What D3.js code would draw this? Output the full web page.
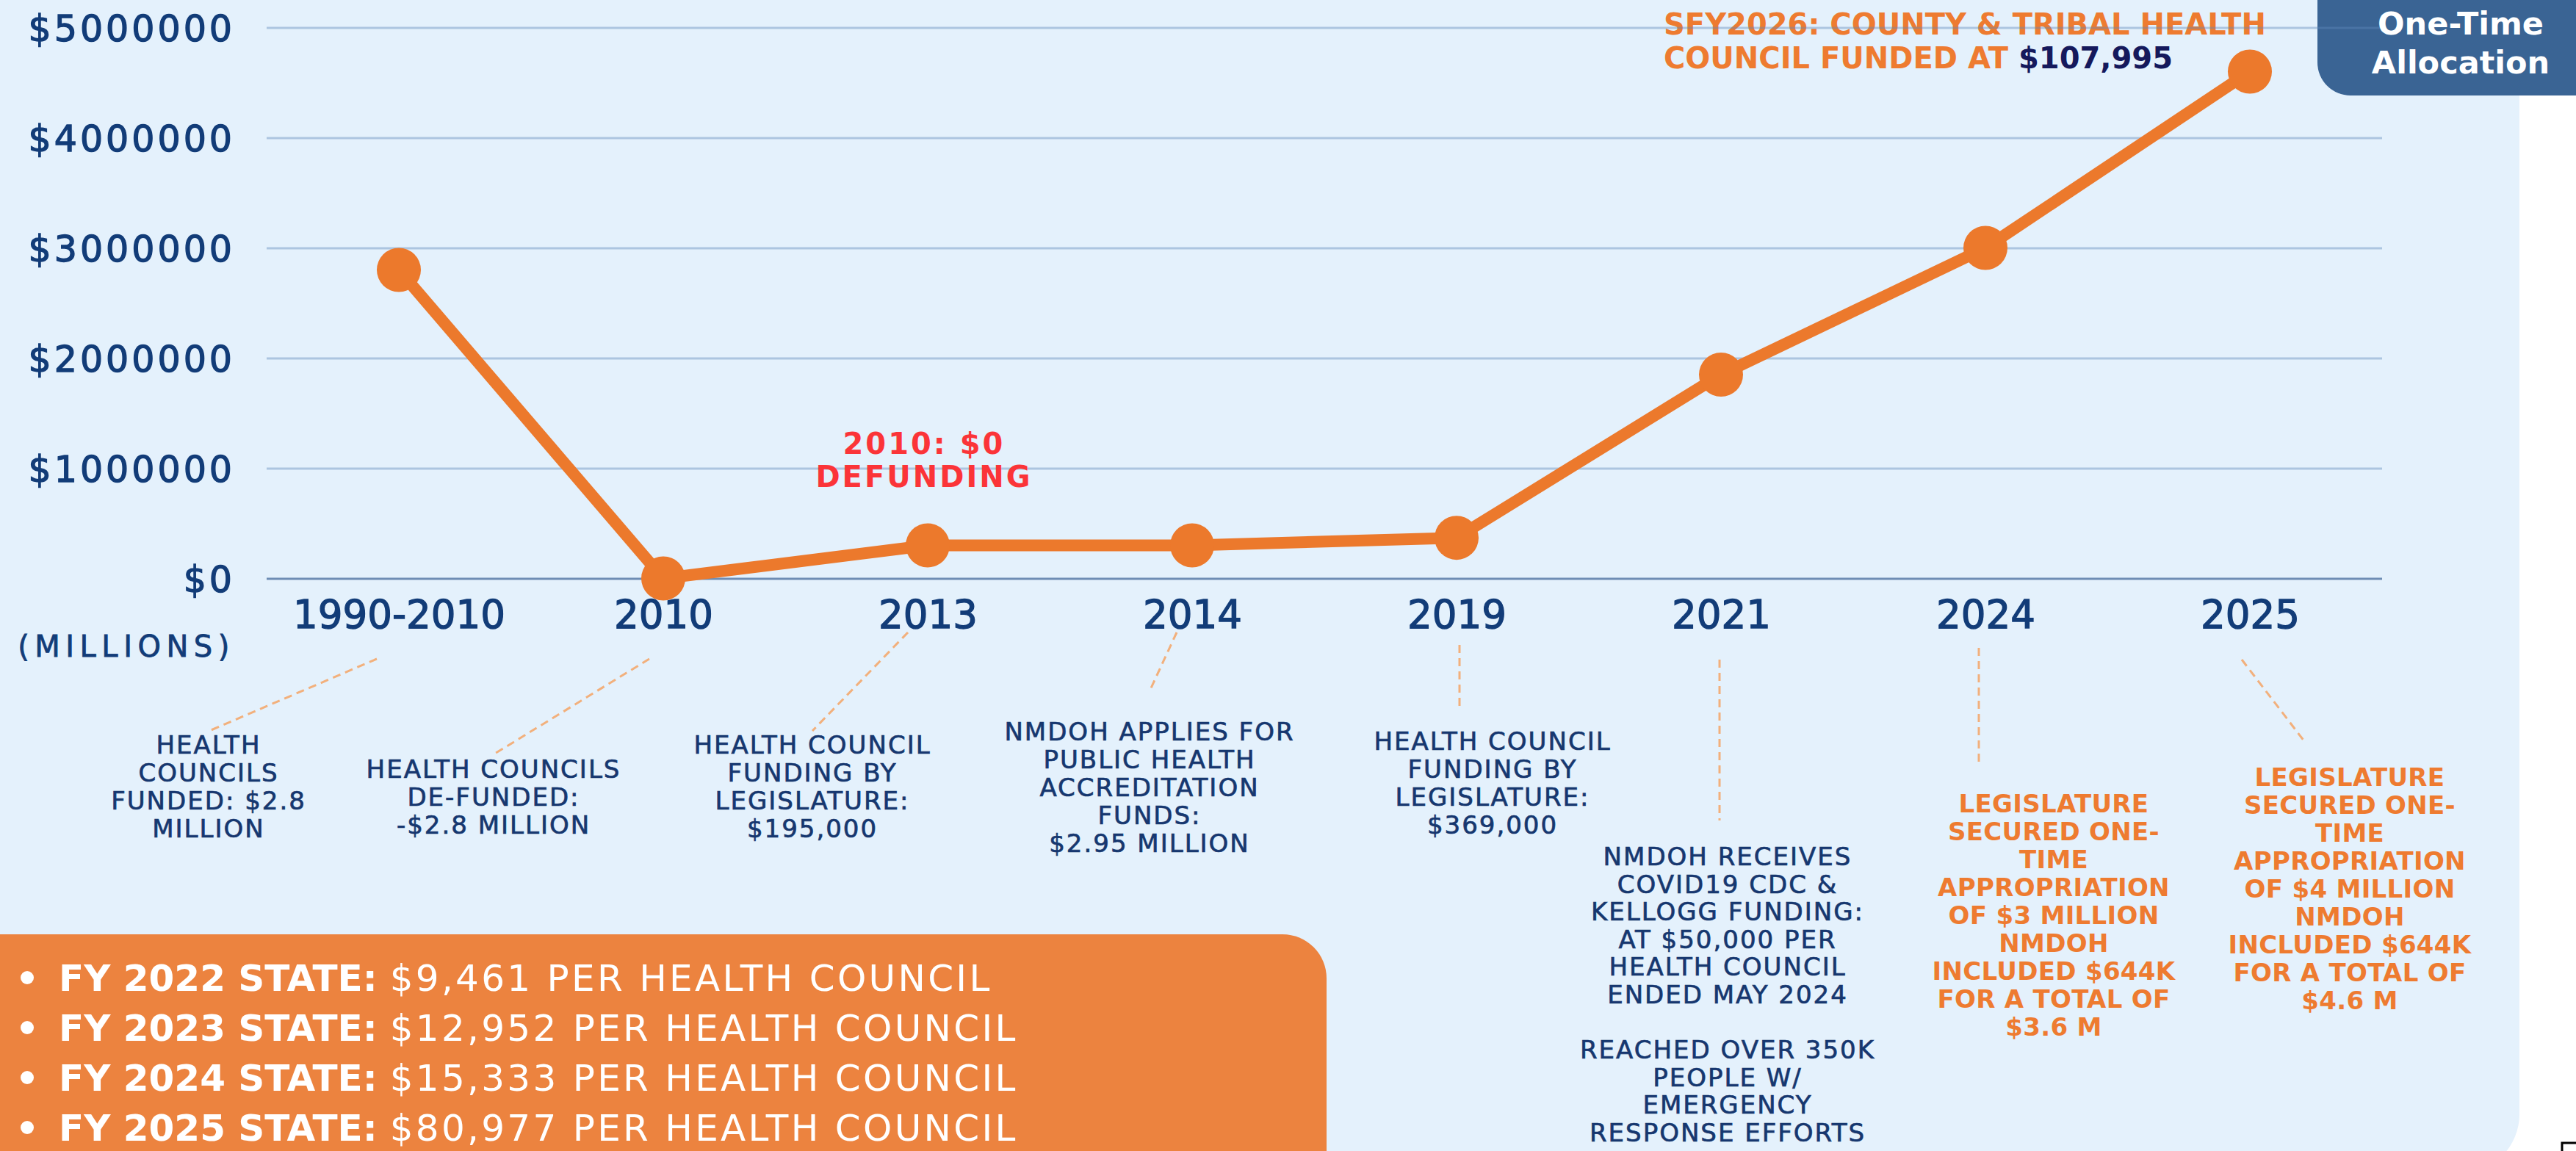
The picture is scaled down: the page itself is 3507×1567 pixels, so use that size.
<!DOCTYPE html>
<html>
<head>
<meta charset="utf-8">
<script src="https://cdn.jsdelivr.net/npm/d3@7"></script>
<style>
  body { margin: 0; background: #ffffff; }
  svg { display: block; font-family: "DejaVu Sans", sans-serif; }
</style>
</head>
<body>
<div class="center"></div>
<script>
const W = 3507;
const H = 1567;

// data
const categories = ["1990-2010", "2010", "2013", "2014", "2019", "2021", "2024", "2025"];
const funding = [2800000, 0, 300000, 300000, 369000, 1850000, 3000000, 4600000];
const yTicks = [0, 1000000, 2000000, 3000000, 4000000, 5000000];

const notes = [
    ["HEALTH", "COUNCILS", "FUNDED: $2.8", "MILLION"],
    ["HEALTH COUNCILS", "DE-FUNDED:", "-$2.8 MILLION"],
    ["HEALTH COUNCIL", "FUNDING BY", "LEGISLATURE:", "$195,000"],
    ["NMDOH APPLIES FOR", "PUBLIC HEALTH", "ACCREDITATION", "FUNDS:", "$2.95 MILLION"],
    ["HEALTH COUNCIL", "FUNDING BY", "LEGISLATURE:", "$369,000"],
    ["NMDOH RECEIVES", "COVID19 CDC &", "KELLOGG FUNDING:", "AT $50,000 PER", "HEALTH COUNCIL", "ENDED MAY 2024", "",
     "REACHED OVER 350K", "PEOPLE W/", "EMERGENCY", "RESPONSE EFFORTS"],
    ["LEGISLATURE", "SECURED ONE-", "TIME", "APPROPRIATION", "OF $3 MILLION", "NMDOH", "INCLUDED $644K", "FOR A TOTAL OF", "$3.6 M"],
    ["LEGISLATURE", "SECURED ONE-", "TIME", "APPROPRIATION", "OF $4 MILLION", "NMDOH", "INCLUDED $644K", "FOR A TOTAL OF", "$4.6 M"]
];
const noteHighlight = [false, false, false, false, false, false, true, true];

const bulletYears = ["FY 2022 STATE:", "FY 2023 STATE:", "FY 2024 STATE:", "FY 2025 STATE:"];
const bulletAmounts = ["$9,461", "$12,952", "$15,333", "$80,977"];

// layout for the notes under the axis (offsets from the point x)
const noteLayout = [
    {dx: -259, top: 1026, gap: 38,   lx1: -30, ly1: 897, lx2: -258, ly2: 995},
    {dx: -231, top: 1059, gap: 38,   lx1: -19, ly1: 897, lx2: -231, ly2: 1027},
    {dx: -157, top: 1026, gap: 38,   lx1: -27, ly1: 861, lx2: -157, ly2: 995},
    {dx: -58,  top: 1008, gap: 38,   lx1: -21, ly1: 861, lx2: -58,  ly2: 941},
    {dx: 49,   top: 1021, gap: 38,   lx1: 4,   ly1: 878, lx2: 4,    ly2: 967},
    {dx: 9,    top: 1178, gap: 37.6, lx1: -2,  ly1: 898, lx2: -2,   ly2: 1117},
    {dx: 93,   top: 1106, gap: 38,   lx1: -9,  ly1: 882, lx2: -9,   ly2: 1037},
    {dx: 136,  top: 1070, gap: 38,   lx1: -11, ly1: 898, lx2: 74,   ly2: 1009}
];

const navy = "#123c78";
const orange = "#ec792c";
const plotL = 363, plotR = 3243, plotT = 37.5, plotB = 787.5;

const svg = d3.select(".center")
    .append("svg")
    .attr("width", W)
    .attr("height", H);

// panels
svg.append("rect")
    .attr("x", -100).attr("y", -100)
    .attr("width", 3530).attr("height", 1697)
    .attr("rx", 80)
    .attr("fill", "#e4f1fc");

svg.append("rect")
    .attr("x", -100).attr("y", 1272)
    .attr("width", 1906).attr("height", 400)
    .attr("rx", 60)
    .attr("fill", "#ec833f");

svg.append("rect")
    .attr("x", 3155).attr("y", -60)
    .attr("width", 500).attr("height", 190)
    .attr("rx", 45)
    .attr("fill", "#3a6494");

const xScale = d3.scalePoint().domain(categories).range([plotL, plotR]).padding(0.5);
const yScale = d3.scaleLinear().domain([0, 5000000]).range([plotB, plotT]);

// top note
const topNote = svg.append("g")
    .attr("font-weight", "bold")
    .attr("font-size", 40)
    .attr("fill", "#ee7b30");
topNote.append("text").attr("x", 2265).attr("y", 47).text("SFY2026: COUNTY & TRIBAL HEALTH");
const t2 = topNote.append("text").attr("x", 2265).attr("y", 93);
t2.append("tspan").text("COUNCIL FUNDED AT ");
t2.append("tspan").attr("fill", "#15195c").text("$107,995");

// y axis + grid
const yAxis = d3.axisLeft(yScale)
    .tickValues(yTicks)
    .tickSize(-(plotR - plotL))
    .tickPadding(43)
    .tickFormat(d => "$" + d);

const gy = svg.append("g")
    .attr("transform", `translate(${plotL},0)`)
    .call(yAxis);
gy.select(".domain").remove();
gy.selectAll(".tick line")
    .attr("stroke", d => d === 0 ? "#6e8db4" : "rgba(95,135,185,0.42)")
    .attr("stroke-width", 3);
gy.selectAll(".tick text")
    .attr("fill", navy)
    .attr("stroke", navy)
    .attr("stroke-width", 1.3)
    .attr("font-size", 49)
    .attr("letter-spacing", 4)
    .attr("font-family", "DejaVu Sans")
    .attr("dy", "0.36em");

// x axis
const xAxis = d3.axisBottom(xScale).tickSize(0).tickPadding(30);
const gx = svg.append("g")
    .attr("transform", `translate(0,${plotB})`)
    .call(xAxis);
gx.select(".domain").remove();
gx.selectAll(".tick text")
    .attr("fill", navy)
    .attr("stroke", navy)
    .attr("stroke-width", 1.3)
    .attr("font-size", 53)
    .attr("font-family", "DejaVu Sans");

svg.append("text")
    .attr("x", 172).attr("y", 894)
    .attr("text-anchor", "middle")
    .attr("font-size", 40)
    .attr("letter-spacing", 7.5)
    .attr("fill", navy)
    .attr("stroke", navy)
    .attr("stroke-width", 0.8)
    .text("(MILLIONS)");

// line and dots
const line = d3.line()
    .x((d, i) => xScale(categories[i]))
    .y(d => yScale(d));

svg.append("path")
    .datum(funding)
    .attr("d", line)
    .attr("fill", "none")
    .attr("stroke", orange)
    .attr("stroke-width", 16)
    .attr("stroke-linejoin", "round");

svg.selectAll(".dot")
    .data(funding)
    .enter()
    .append("circle")
    .attr("class", "dot")
    .attr("cx", (d, i) => xScale(categories[i]))
    .attr("cy", d => yScale(d))
    .attr("r", 30)
    .attr("fill", orange);

// defunding label
const red = svg.append("text")
    .attr("text-anchor", "middle")
    .attr("font-weight", "bold")
    .attr("font-size", 40)
    .attr("letter-spacing", 3)
    .attr("fill", "#fb3438");
red.append("tspan").attr("x", 1258).attr("y", 618).text("2010: $0");
red.append("tspan").attr("x", 1258).attr("y", 663).text("DEFUNDING");

// notes under the axis
const noteG = svg.selectAll(".note")
    .data(notes)
    .enter()
    .append("g")
    .attr("class", "note");

noteG.append("line")
    .attr("x1", (d, i) => xScale(categories[i]) + noteLayout[i].lx1)
    .attr("y1", (d, i) => noteLayout[i].ly1)
    .attr("x2", (d, i) => xScale(categories[i]) + noteLayout[i].lx2)
    .attr("y2", (d, i) => noteLayout[i].ly2)
    .attr("stroke", "#f2b07c")
    .attr("stroke-width", 3)
    .attr("stroke-dasharray", "11,7");

noteG.each(function(lines, i) {
    const cx = xScale(categories[i]) + noteLayout[i].dx;
    const hl = noteHighlight[i];
    const col = hl ? "#ee7b30" : "#16376f";
    const t = d3.select(this).append("text")
        .attr("text-anchor", "middle")
        .attr("font-size", 34)
        .attr("font-weight", hl ? "bold" : "normal")
        .attr("letter-spacing", hl ? 0.3 : 2)
        .attr("fill", col)
        .attr("stroke", hl ? "none" : col)
        .attr("stroke-width", 0.7);
    lines.forEach((s, j) => {
        t.append("tspan")
            .attr("x", cx)
            .attr("y", noteLayout[i].top + j * noteLayout[i].gap)
            .text(s);
    });
});

// bullets in the orange box
const bullets = svg.selectAll(".bullet")
    .data(bulletYears)
    .enter()
    .append("g")
    .attr("class", "bullet")
    .attr("fill", "#ffffff");

bullets.append("circle")
    .attr("cx", 37)
    .attr("cy", (d, i) => 1349 + i * 68 - 18)
    .attr("r", 9);

const bt = bullets.append("text")
    .attr("x", 80)
    .attr("y", (d, i) => 1349 + i * 68)
    .attr("font-size", 50);
bt.append("tspan")
    .attr("font-weight", "bold")
    .text(d => d);
bt.append("tspan")
    .attr("dx", 17)
    .attr("letter-spacing", 3.3)
    .text((d, i) => bulletAmounts[i] + " PER HEALTH COUNCIL");

// one-time tag
const tag = svg.append("text")
    .attr("text-anchor", "middle")
    .attr("font-weight", "bold")
    .attr("font-size", 43)
    .attr("fill", "#ffffff");
tag.append("tspan").attr("x", 3350).attr("y", 47).text("One-Time");
tag.append("tspan").attr("x", 3350).attr("y", 100).text("Allocation");

// corner mark
svg.append("path")
    .attr("d", "M3488,1567V1556H3507")
    .attr("fill", "none")
    .attr("stroke", "#000")
    .attr("stroke-width", 3);
</script>
</body>
</html>
